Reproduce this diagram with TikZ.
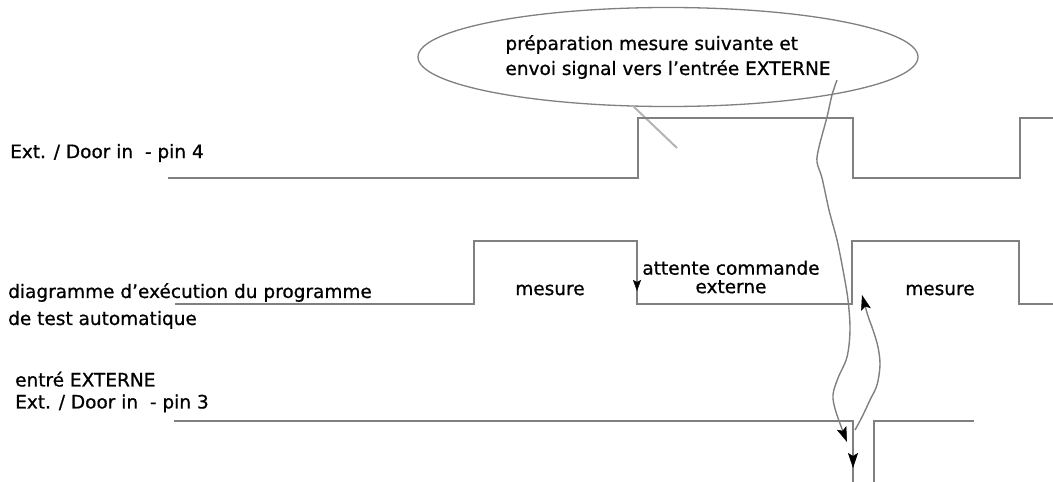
\documentclass[tikz,border=0pt]{standalone}
\usepackage{fontspec}
\setmainfont[FakeBold=0.8]{DejaVu Sans}
\usetikzlibrary{arrows.meta,shapes.geometric}
\definecolor{sig}{RGB}{128,128,128}
\definecolor{tail}{RGB}{180,180,180}
\tikzset{
  signal/.style={draw=sig, line width=2.4pt, line join=miter},
  wavy/.style={draw=sig, line width=1.4pt},
  tip/.style={-{Stealth[color=black,fill=black,line width=0.5pt,length=15pt,width=10pt,inset=3pt]}},
  smalltip/.style={-{Stealth[color=black,fill=black,line width=0.5pt,length=11pt,width=8pt,inset=2pt]}},
  lbl/.style={font=\fontsize{18.5}{25}\selectfont, inner sep=0pt, text=black},
}
\begin{document}
\begin{tikzpicture}[x=1pt,y=-1pt]
\useasboundingbox (0,0) rectangle (1053,482);

% callout ellipse
\node[ellipse, draw=sig, line width=1.3pt, minimum width=500pt, minimum height=99pt, inner sep=0pt,
      lbl, align=left] (ell) at (668,57)
  {préparation mesure suivante et\\envoi signal vers l'entrée EXTERNE};
\coordinate (tailA) at (633,106);
\coordinate (tailB) at (677,148);
\draw[tail, line width=2pt] (tailA) -- (tailB);

% labels
\node[lbl, anchor=west] (l4) at (10,153) {Ext. / Door in \ - pin 4};
\node[lbl, anchor=west, align=left, font=\fontsize{18.5}{27}\selectfont] (lp) at (8,306) {diagramme d'exécution du programme\\de test automatique};
\node[lbl, anchor=west, align=left, font=\fontsize{18.5}{22}\selectfont] (l3) at (15,392) {entré EXTERNE\\Ext. / Door in \ - pin 3};
\node[lbl] (m1) at (550,290) {mesure};
\node[lbl, align=center, font=\fontsize{18.5}{18.5}\selectfont] (att) at (731,277) {attente commande\\externe};
\node[lbl] (m2) at (940,290) {mesure};

% signal 1 : pin 4
\draw[signal] (168,178) coordinate (s1a) -- (638,178) -- (638,118) -- (853,118) -- (853,178)
  -- (1020,178) -- (1020,118) -- (1053,118) coordinate (s1z);
% signal 2 : program
\draw[signal] (175,304) coordinate (s2a) -- (474,304) -- (474,241) -- (637,241) coordinate (s2f) -- (637,304)
  -- (852,304) -- (852,241) -- (1019,241) -- (1019,304) -- (1053,304) coordinate (s2z);
% signal 3 : external input
\draw[signal] (174,421) coordinate (s3a) -- (853,421) -- (853,482) coordinate (s3d);
\draw[signal] (874,482) coordinate (s3u) -- (874,421) -- (974,421) coordinate (s3z);

% small arrow on falling edge of program
\coordinate (fa) at (637,260);
\coordinate (fb) at (637,291);
\draw[signal, smalltip] (fa) -- (fb);

% wavy arrow from callout to external input
\coordinate (w0) at (837,80);
\coordinate (w1) at (847,442);
\draw[wavy, tip] plot[smooth, tension=0.55] coordinates {
  (w0) (832,95) (827,117) (819,147) (817,162) (822,178) (829,210) (837,240) (843,270)
  (848,300) (850,330) (847,357) (838,378) (833,395) (836,412) (w1)};

% wavy arrow from external input back to program
\coordinate (v0) at (855,430);
\coordinate (v1) at (862,295);
\draw[wavy, tip] plot[smooth, tension=0.55] coordinates {
  (v0) (862,417) (870,400) (877,385) (880,365) (878,347) (873,330) (868,316) (v1)};

% arrow on falling edge of external input
\coordinate (e0) at (853,440);
\coordinate (e1) at (853,468);
\draw[signal, tip] (e0) -- (e1);
\end{tikzpicture}
\end{document}
